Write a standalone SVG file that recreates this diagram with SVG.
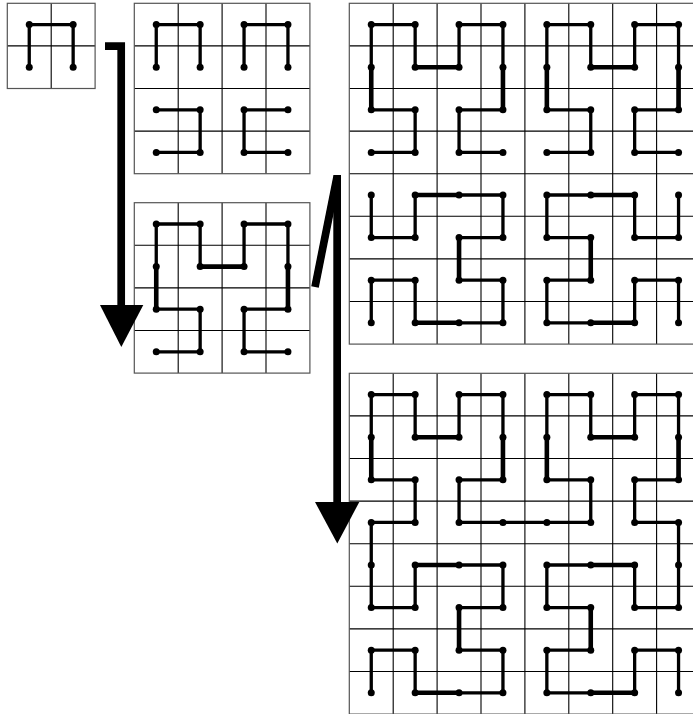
<svg xmlns="http://www.w3.org/2000/svg" xmlns:xlink="http://www.w3.org/1999/xlink" width="693" height="714" viewBox="0 0 693 714">
<style>
.bg{fill:#fff}
.border{fill:none;stroke:#555;stroke-width:1.2}
.grid{fill:none;stroke:#000;stroke-width:1.1}
.curve{fill:none;stroke:#000;stroke-width:3.3;stroke-linejoin:miter}
.thick{fill:none;stroke:#000;stroke-width:4.6;stroke-linecap:butt}
.dot{fill:#000}
.arrow{fill:none;stroke:#000;stroke-width:7.7;stroke-linejoin:miter}
.head{fill:#000}
</style>
<defs>
<circle id="d" class="dot" r="3.5"/>
</defs>
<rect class="bg" x="0" y="0" width="693" height="714"/>

<g id="panel1">
<path class="grid" d="M51.2 3.3V88.5M7.3 45.9H95.1"/>
<rect class="border" x="7.3" y="3.3" width="87.8" height="85.2"/>
<polyline class="curve" points="29.25,67.2 29.25,24.6 73.15,24.6 73.15,67.2"/>
<use href="#d" x="29.25" y="24.6"/><use href="#d" x="73.15" y="24.6"/><use href="#d" x="29.25" y="67.2"/><use href="#d" x="73.15" y="67.2"/>
</g>

<g id="panel2">
<path class="grid" d="M178.2 3.3V173.7M222.1 3.3V173.7M266 3.3V173.7M134.3 45.9H309.9M134.3 88.5H309.9M134.3 131.1H309.9"/>
<rect class="border" x="134.3" y="3.3" width="175.6" height="170.4"/>
<polyline class="curve" points="156.25,67.2 156.25,24.6 200.15,24.6 200.15,67.2"/>
<polyline class="curve" points="244.05,67.2 244.05,24.6 287.95,24.6 287.95,67.2"/>
<polyline class="curve" points="156.25,109.8 200.15,109.8 200.15,152.4 156.25,152.4"/>
<polyline class="curve" points="287.95,109.8 244.05,109.8 244.05,152.4 287.95,152.4"/>
<g>
<use href="#d" x="156.25" y="24.6"/><use href="#d" x="200.15" y="24.6"/><use href="#d" x="244.05" y="24.6"/><use href="#d" x="287.95" y="24.6"/>
<use href="#d" x="156.25" y="67.2"/><use href="#d" x="200.15" y="67.2"/><use href="#d" x="244.05" y="67.2"/><use href="#d" x="287.95" y="67.2"/>
<use href="#d" x="156.25" y="109.8"/><use href="#d" x="200.15" y="109.8"/><use href="#d" x="244.05" y="109.8"/><use href="#d" x="287.95" y="109.8"/>
<use href="#d" x="156.25" y="152.4"/><use href="#d" x="200.15" y="152.4"/><use href="#d" x="244.05" y="152.4"/><use href="#d" x="287.95" y="152.4"/>
</g>
</g>

<g id="panel3">
<path class="grid" d="M178.2 202.7V373.1M222.1 202.7V373.1M266 202.7V373.1M134.3 245.3H309.9M134.3 287.9H309.9M134.3 330.5H309.9"/>
<rect class="border" x="134.3" y="202.7" width="175.6" height="170.4"/>
<polyline class="curve" points="156.25,351.8 200.15,351.8 200.15,309.2 156.25,309.2 156.25,266.6 156.25,224 200.15,224 200.15,266.6 244.05,266.6 244.05,224 287.95,224 287.95,266.6 287.95,309.2 244.05,309.2 244.05,351.8 287.95,351.8"/>
<path class="thick" d="M156.25 266.6V309.2M200.15 266.6H244.05M287.95 266.6V309.2"/>
<g>
<use href="#d" x="156.25" y="224"/><use href="#d" x="200.15" y="224"/><use href="#d" x="244.05" y="224"/><use href="#d" x="287.95" y="224"/>
<use href="#d" x="156.25" y="266.6"/><use href="#d" x="200.15" y="266.6"/><use href="#d" x="244.05" y="266.6"/><use href="#d" x="287.95" y="266.6"/>
<use href="#d" x="156.25" y="309.2"/><use href="#d" x="200.15" y="309.2"/><use href="#d" x="244.05" y="309.2"/><use href="#d" x="287.95" y="309.2"/>
<use href="#d" x="156.25" y="351.8"/><use href="#d" x="200.15" y="351.8"/><use href="#d" x="244.05" y="351.8"/><use href="#d" x="287.95" y="351.8"/>
</g>
</g>

<g id="panel4">
<path class="grid" d="M393.2 3.3V344.1M437.1 3.3V344.1M481 3.3V344.1M524.9 3.3V344.1M568.8 3.3V344.1M612.7 3.3V344.1M656.6 3.3V344.1M349.3 45.9H700.5M349.3 88.5H700.5M349.3 131.1H700.5M349.3 173.7H700.5M349.3 216.3H700.5M349.3 258.9H700.5M349.3 301.5H700.5"/>
<rect class="border" x="349.3" y="3.3" width="351.2" height="340.8"/>
<polyline class="curve" points="371.25,152.4 415.15,152.4 415.15,109.8 371.25,109.8 371.25,67.2 371.25,24.6 415.15,24.6 415.15,67.2 459.05,67.2 459.05,24.6 502.95,24.6 502.95,67.2 502.95,109.8 459.05,109.8 459.05,152.4 502.95,152.4"/>
<polyline class="curve" points="546.85,152.4 590.75,152.4 590.75,109.8 546.85,109.8 546.85,67.2 546.85,24.6 590.75,24.6 590.75,67.2 634.65,67.2 634.65,24.6 678.55,24.6 678.55,67.2 678.55,109.8 634.65,109.8 634.65,152.4 678.55,152.4"/>
<polyline class="curve" points="371.25,195 371.25,237.6 415.15,237.6 415.15,195 459.05,195 502.95,195 502.95,237.6 459.05,237.6 459.05,280.2 502.95,280.2 502.95,322.8 459.05,322.8 415.15,322.8 415.15,280.2 371.25,280.2 371.25,322.8"/>
<polyline class="curve" points="678.55,195 678.55,237.6 634.65,237.6 634.65,195 590.75,195 546.85,195 546.85,237.6 590.75,237.6 590.75,280.2 546.85,280.2 546.85,322.8 590.75,322.8 634.65,322.8 634.65,280.2 678.55,280.2 678.55,322.8"/>
<path class="thick" d="M371.25 67.2V109.8M415.15 67.2H459.05M502.95 67.2V109.8M546.85 67.2V109.8M590.75 67.2H634.65M678.55 67.2V109.8M415.15 195H459.05M459.05 237.6V280.2M415.15 322.8H459.05M590.75 195H634.65M590.75 237.6V280.2M590.75 322.8H634.65"/>
<g>
<use href="#d" x="371.25" y="24.6"/><use href="#d" x="415.15" y="24.6"/><use href="#d" x="459.05" y="24.6"/><use href="#d" x="502.95" y="24.6"/><use href="#d" x="546.85" y="24.6"/><use href="#d" x="590.75" y="24.6"/><use href="#d" x="634.65" y="24.6"/><use href="#d" x="678.55" y="24.6"/>
<use href="#d" x="371.25" y="67.2"/><use href="#d" x="415.15" y="67.2"/><use href="#d" x="459.05" y="67.2"/><use href="#d" x="502.95" y="67.2"/><use href="#d" x="546.85" y="67.2"/><use href="#d" x="590.75" y="67.2"/><use href="#d" x="634.65" y="67.2"/><use href="#d" x="678.55" y="67.2"/>
<use href="#d" x="371.25" y="109.8"/><use href="#d" x="415.15" y="109.8"/><use href="#d" x="459.05" y="109.8"/><use href="#d" x="502.95" y="109.8"/><use href="#d" x="546.85" y="109.8"/><use href="#d" x="590.75" y="109.8"/><use href="#d" x="634.65" y="109.8"/><use href="#d" x="678.55" y="109.8"/>
<use href="#d" x="371.25" y="152.4"/><use href="#d" x="415.15" y="152.4"/><use href="#d" x="459.05" y="152.4"/><use href="#d" x="502.95" y="152.4"/><use href="#d" x="546.85" y="152.4"/><use href="#d" x="590.75" y="152.4"/><use href="#d" x="634.65" y="152.4"/><use href="#d" x="678.55" y="152.4"/>
<use href="#d" x="371.25" y="195"/><use href="#d" x="415.15" y="195"/><use href="#d" x="459.05" y="195"/><use href="#d" x="502.95" y="195"/><use href="#d" x="546.85" y="195"/><use href="#d" x="590.75" y="195"/><use href="#d" x="634.65" y="195"/><use href="#d" x="678.55" y="195"/>
<use href="#d" x="371.25" y="237.6"/><use href="#d" x="415.15" y="237.6"/><use href="#d" x="459.05" y="237.6"/><use href="#d" x="502.95" y="237.6"/><use href="#d" x="546.85" y="237.6"/><use href="#d" x="590.75" y="237.6"/><use href="#d" x="634.65" y="237.6"/><use href="#d" x="678.55" y="237.6"/>
<use href="#d" x="371.25" y="280.2"/><use href="#d" x="415.15" y="280.2"/><use href="#d" x="459.05" y="280.2"/><use href="#d" x="502.95" y="280.2"/><use href="#d" x="546.85" y="280.2"/><use href="#d" x="590.75" y="280.2"/><use href="#d" x="634.65" y="280.2"/><use href="#d" x="678.55" y="280.2"/>
<use href="#d" x="371.25" y="322.8"/><use href="#d" x="415.15" y="322.8"/><use href="#d" x="459.05" y="322.8"/><use href="#d" x="502.95" y="322.8"/><use href="#d" x="546.85" y="322.8"/><use href="#d" x="590.75" y="322.8"/><use href="#d" x="634.65" y="322.8"/><use href="#d" x="678.55" y="322.8"/>
</g>
</g>

<g id="panel5">
<path class="grid" d="M393.2 373.3V714.1M437.1 373.3V714.1M481 373.3V714.1M524.9 373.3V714.1M568.8 373.3V714.1M612.7 373.3V714.1M656.6 373.3V714.1M349.3 415.9H700.5M349.3 458.5H700.5M349.3 501.1H700.5M349.3 543.7H700.5M349.3 586.3H700.5M349.3 628.9H700.5M349.3 671.5H700.5"/>
<rect class="border" x="349.3" y="373.3" width="351.2" height="340.8"/>
<polyline class="curve" points="371.25,692.8 371.25,650.2 415.15,650.2 415.15,692.8 459.05,692.8 502.95,692.8 502.95,650.2 459.05,650.2 459.05,607.6 502.95,607.6 502.95,565 459.05,565 415.15,565 415.15,607.6 371.25,607.6 371.25,565 371.25,522.4 415.15,522.4 415.15,479.8 371.25,479.8 371.25,437.2 371.25,394.6 415.15,394.6 415.15,437.2 459.05,437.2 459.05,394.6 502.95,394.6 502.95,437.2 502.95,479.8 459.05,479.8 459.05,522.4 502.95,522.4 546.85,522.4 590.75,522.4 590.75,479.8 546.85,479.8 546.85,437.2 546.85,394.6 590.75,394.6 590.75,437.2 634.65,437.2 634.65,394.6 678.55,394.6 678.55,437.2 678.55,479.8 634.65,479.8 634.65,522.4 678.55,522.4 678.55,565 678.55,607.6 634.65,607.6 634.65,565 590.75,565 546.85,565 546.85,607.6 590.75,607.6 590.75,650.2 546.85,650.2 546.85,692.8 590.75,692.8 634.65,692.8 634.65,650.2 678.55,650.2 678.55,692.8"/>
<path class="thick" d="M371.25 437.2V479.8M415.15 437.2H459.05M502.95 437.2V479.8M546.85 437.2V479.8M590.75 437.2H634.65M678.55 437.2V479.8M415.15 565H459.05M459.05 607.6V650.2M415.15 692.8H459.05M590.75 565H634.65M590.75 607.6V650.2M590.75 692.8H634.65"/>
<g>
<use href="#d" x="371.25" y="394.6"/><use href="#d" x="415.15" y="394.6"/><use href="#d" x="459.05" y="394.6"/><use href="#d" x="502.95" y="394.6"/><use href="#d" x="546.85" y="394.6"/><use href="#d" x="590.75" y="394.6"/><use href="#d" x="634.65" y="394.6"/><use href="#d" x="678.55" y="394.6"/>
<use href="#d" x="371.25" y="437.2"/><use href="#d" x="415.15" y="437.2"/><use href="#d" x="459.05" y="437.2"/><use href="#d" x="502.95" y="437.2"/><use href="#d" x="546.85" y="437.2"/><use href="#d" x="590.75" y="437.2"/><use href="#d" x="634.65" y="437.2"/><use href="#d" x="678.55" y="437.2"/>
<use href="#d" x="371.25" y="479.8"/><use href="#d" x="415.15" y="479.8"/><use href="#d" x="459.05" y="479.8"/><use href="#d" x="502.95" y="479.8"/><use href="#d" x="546.85" y="479.8"/><use href="#d" x="590.75" y="479.8"/><use href="#d" x="634.65" y="479.8"/><use href="#d" x="678.55" y="479.8"/>
<use href="#d" x="371.25" y="522.4"/><use href="#d" x="415.15" y="522.4"/><use href="#d" x="459.05" y="522.4"/><use href="#d" x="502.95" y="522.4"/><use href="#d" x="546.85" y="522.4"/><use href="#d" x="590.75" y="522.4"/><use href="#d" x="634.65" y="522.4"/><use href="#d" x="678.55" y="522.4"/>
<use href="#d" x="371.25" y="565"/><use href="#d" x="415.15" y="565"/><use href="#d" x="459.05" y="565"/><use href="#d" x="502.95" y="565"/><use href="#d" x="546.85" y="565"/><use href="#d" x="590.75" y="565"/><use href="#d" x="634.65" y="565"/><use href="#d" x="678.55" y="565"/>
<use href="#d" x="371.25" y="607.6"/><use href="#d" x="415.15" y="607.6"/><use href="#d" x="459.05" y="607.6"/><use href="#d" x="502.95" y="607.6"/><use href="#d" x="546.85" y="607.6"/><use href="#d" x="590.75" y="607.6"/><use href="#d" x="634.65" y="607.6"/><use href="#d" x="678.55" y="607.6"/>
<use href="#d" x="371.25" y="650.2"/><use href="#d" x="415.15" y="650.2"/><use href="#d" x="459.05" y="650.2"/><use href="#d" x="502.95" y="650.2"/><use href="#d" x="546.85" y="650.2"/><use href="#d" x="590.75" y="650.2"/><use href="#d" x="634.65" y="650.2"/><use href="#d" x="678.55" y="650.2"/>
<use href="#d" x="371.25" y="692.8"/><use href="#d" x="415.15" y="692.8"/><use href="#d" x="459.05" y="692.8"/><use href="#d" x="502.95" y="692.8"/><use href="#d" x="546.85" y="692.8"/><use href="#d" x="590.75" y="692.8"/><use href="#d" x="634.65" y="692.8"/><use href="#d" x="678.55" y="692.8"/>
</g>
</g>

<g id="connectors">
<polyline class="arrow" points="105,46.2 121.2,46.2 121.2,307"/>
<polygon class="head" points="100,305 143.3,305 121.3,347"/>
<line class="arrow" x1="315" y1="287" x2="337" y2="177"/>
<rect class="head" x="333.3" y="175" width="7.7" height="330"/>
<polygon class="head" points="315,502 359.3,502 337.3,543.5"/>
</g>
</svg>
